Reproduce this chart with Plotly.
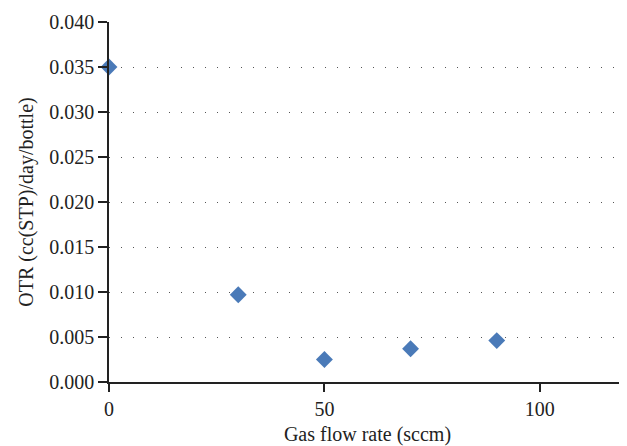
import plotly.graph_objects as go

flow_rate = [0, 30, 50, 70, 90]
otr = [0.035, 0.0097, 0.0025, 0.0037, 0.0046]

x_ticks = [0, 50, 100]
y_ticks = [0.0, 0.005, 0.010, 0.015, 0.020, 0.025, 0.030, 0.035, 0.040]

font_family = "Liberation Serif, Times New Roman, serif"

fig = go.Figure()
fig.add_trace(go.Scatter(
    x=flow_rate, y=otr, mode="markers",
    marker=dict(symbol="diamond", size=13, color="#4a7ab8", line=dict(width=0)),
    cliponaxis=False, showlegend=False,
))

# page body has an 8px margin, so the figure is sized to fit the window
fig.update_layout(
    width=619, height=438,
    margin=dict(l=101, r=1, t=14, b=64, autoexpand=False),
    paper_bgcolor="white", plot_bgcolor="white",
    font=dict(family=font_family, size=20, color="#222222"),
)
fig.update_xaxes(
    range=[0, 120], tickvals=x_ticks, ticktext=[str(v) for v in x_ticks],
    showgrid=False, zeroline=False, automargin=False,
    showline=True, linecolor="#222222", linewidth=1.5,
    ticks="outside", ticklen=8, tickwidth=1.5, tickcolor="#222222",
    title=dict(text="Gas flow rate (sccm)", standoff=8, font=dict(size=20)),
)
fig.update_yaxes(
    range=[0, 0.040], tickvals=y_ticks, tickformat=".3f",
    showgrid=True, gridcolor="#555555", gridwidth=1, griddash="1px,11px",
    zeroline=False, automargin=False,
    showline=True, linecolor="#222222", linewidth=1.5,
    ticks="outside", ticklen=9, tickwidth=1.5, tickcolor="#222222",
    title=dict(text="OTR (cc(STP)/day/bottle)", standoff=10, font=dict(size=20)),
)

fig.write_html("out.html")
